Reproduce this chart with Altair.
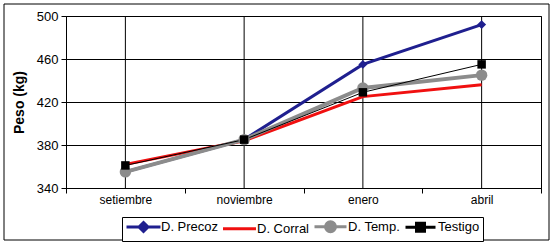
import altair as alt
import pandas as pd

months = ["setiembre", "noviembre", "enero", "abril"]
series = ["D. Precoz", "D. Corral", "D. Temp.", "Testigo"]
precoz = [355, 385, 455, 492]
corral = [362, 384, 425, 436]
temp = [355, 385, 433, 445]
testigo = [361, 385, 429, 455]
y_ticks = [340, 380, 420, 460, 500]

colors = ["#1f1f8f", "#f01010", "#8c8c8c", "#000000"]
widths = [3, 3, 4, 1]
shapes = ["diamond", None, "circle", "square"]
sizes = [80, 0, 130, 72]
legend_paths = [
    "M-3.4,0H3.4M0,-0.9L0.9,0L0,0.9L-0.9,0Z",
    "M-3.3,0H3.3",
    "M-3.2,0H3.2M1.0,0A1.0,1.0,0,1,1,-1.0,0A1.0,1.0,0,1,1,1.0,0Z",
    "M-3,0H3M-0.8,-0.8H0.8V0.8H-0.8Z",
]

rows = []
for name, vals in zip(series, [precoz, corral, temp, testigo]):
    for m, v in zip(months, vals):
        rows.append({"month": m, "series": name, "peso": v})
df = pd.DataFrame(rows)

xscale = alt.Scale(domain=months, type="band", paddingInner=0, paddingOuter=0)
yscale = alt.Scale(domain=[340, 500], nice=False, zero=False)

xenc = alt.X("month:N", scale=xscale, sort=months, bandPosition=0.5,
             axis=alt.Axis(title=None, grid=False, tickBand="extent", tickSize=5,
                           labelFontSize=12, labelPadding=6, labelAngle=0, labelAlign="center",
                           domainColor="black", tickColor="black", labelColor="black"))
yenc = alt.Y("peso:Q", scale=yscale,
             axis=alt.Axis(values=y_ticks, grid=True, gridColor="black", tickSize=5,
                           labelFontSize=13, labelPadding=3, title="Peso (kg)",
                           titleFontSize=14, titleFontWeight="bold", titlePadding=10,
                           domainColor="black", tickColor="black", labelColor="black"))

base = alt.Chart(df)

grid = alt.Chart(pd.DataFrame({"month": months})).mark_rule(color="black", strokeWidth=1).encode(
    x=alt.X("month:N", scale=xscale, sort=months, bandPosition=0.5)
)

layers = [grid]
for name, col, w in zip(series, colors, widths):
    layers.append(
        base.transform_filter(alt.datum.series == name)
        .mark_line(color=col, strokeWidth=w)
        .encode(x=xenc, y=yenc)
    )

for name, col, shp, sz in zip(series, colors, shapes, sizes):
    if shp is None:
        continue
    layers.append(
        base.transform_filter(alt.datum.series == name)
        .mark_point(color=col, shape=shp, size=sz, filled=True, opacity=1)
        .encode(x=xenc, y=yenc)
    )

leg = alt.Legend(
    title=None, orient="none", direction="horizontal", legendX=56, legendY=201,
    symbolSize=100, symbolOpacity=1, symbolOffset=12, labelOffset=11,
    labelFontSize=13, labelColor="black", columnPadding=-2, padding=3,
    strokeColor="black", fillColor="white",
)

legend_layer = base.mark_point(opacity=0).encode(
    x=xenc,
    y=yenc,
    fill=alt.Fill("series:N", scale=alt.Scale(domain=series, range=colors), legend=leg),
    stroke=alt.Stroke("series:N", scale=alt.Scale(domain=series, range=colors), legend=leg),
    strokeWidth=alt.StrokeWidth("series:N", scale=alt.Scale(domain=series, range=widths), legend=leg),
    shape=alt.Shape("series:N", scale=alt.Scale(domain=series, range=legend_paths), legend=leg),
)
layers.append(legend_layer)

frame = alt.Chart(pd.DataFrame({"a": [0]})).mark_rect(fill=None, stroke="black", strokeWidth=1).encode(
    x=alt.value(-62), x2=alt.value(483), y=alt.value(-12), y2=alt.value(224)
)
layers.append(frame)

chart = alt.layer(*layers).properties(
    width=475, height=172,
    autosize="none",
    padding={"left": 66, "top": 16, "right": 12, "bottom": 56},
).configure(font="Liberation Sans").configure_view(stroke="black", strokeWidth=1)

chart.save("out.html", embed_options={"renderer": "svg", "actions": False})
